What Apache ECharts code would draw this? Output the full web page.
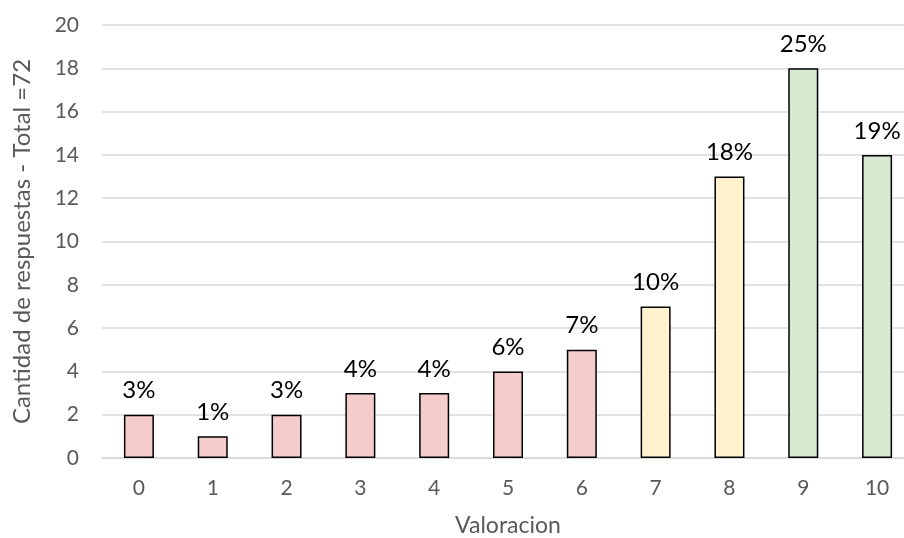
<!DOCTYPE html>
<html>
<head>
<meta charset="utf-8">
<script src="https://cdn.jsdelivr.net/npm/echarts@6/dist/echarts.min.js"></script>
<style>
  html, body { margin: 0; padding: 0; background: #ffffff; }
  #chart { width: 904px; height: 538px; }
</style>
</head>
<body>
<div id="chart"></div>
<script>
// Rating scale 0–10 and number of responses per rating
const categories = ['0', '1', '2', '3', '4', '5', '6', '7', '8', '9', '10'];
const responses = [2, 1, 2, 3, 3, 4, 5, 7, 13, 18, 14];
const percentLabels = ['3%', '1%', '3%', '4%', '4%', '6%', '7%', '10%', '18%', '25%', '19%'];
const yTicks = [0, 2, 4, 6, 8, 10, 12, 14, 16, 18, 20];

// Fill colour by rating band: detractors, passives, promoters
function bandColor(i) {
  if (i <= 6) return '#F4CCCC';
  if (i <= 8) return '#FFF2CC';
  return '#D9EAD3';
}

const font = 'Lato, "Open Sans", sans-serif';
const chart = echarts.init(document.getElementById('chart'));

chart.setOption({
  animation: false,
  grid: {
    left: 102, top: 25, width: 812, bottom: 80,
    containLabel: false,
    outerBoundsMode: 'none'
  },
  xAxis: {
    type: 'category',
    data: categories,
    name: 'Valoracion',
    nameLocation: 'middle',
    nameGap: 56,
    nameTextStyle: { color: '#595959', fontSize: 23, fontFamily: font },
    axisLine: { lineStyle: { color: '#D9D9D9', width: 1.5 } },
    axisTick: { show: false },
    axisLabel: { color: '#595959', fontSize: 21, fontFamily: font, margin: 20 }
  },
  yAxis: {
    type: 'value',
    min: yTicks[0],
    max: yTicks[yTicks.length - 1],
    interval: 2,
    name: 'Cantidad de respuestas - Total =72',
    nameLocation: 'middle',
    nameGap: 68,
    nameTextStyle: { color: '#595959', fontSize: 24, fontFamily: font },
    axisLine: { show: false },
    axisTick: { show: false },
    axisLabel: { color: '#595959', fontSize: 21, fontFamily: font, margin: 23 },
    splitLine: { lineStyle: { color: '#D9D9D9', width: 1.5 } }
  },
  series: [{
    type: 'bar',
    barWidth: 30,
    data: responses.map((v, i) => ({
      value: v,
      itemStyle: { color: bandColor(i), borderColor: '#000000', borderWidth: 1.5 }
    })),
    label: {
      show: true,
      position: 'top',
      distance: 12,
      color: '#000000',
      fontSize: 24,
      fontFamily: font,
      formatter: p => percentLabels[p.dataIndex]
    }
  }]
});
</script>
</body>
</html>
